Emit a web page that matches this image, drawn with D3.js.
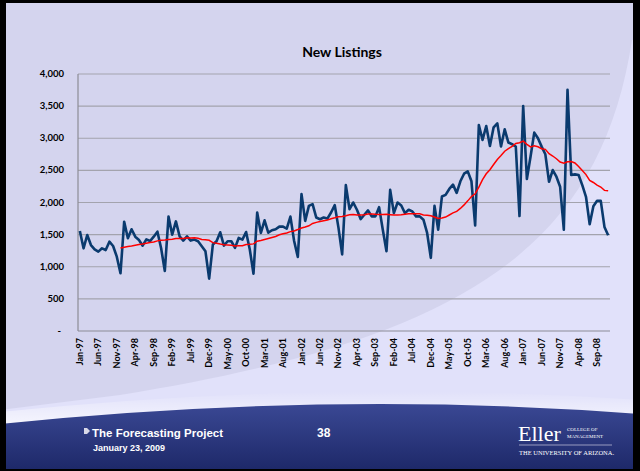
<!DOCTYPE html>
<html>
<head>
<meta charset="utf-8">
<script src="https://cdn.jsdelivr.net/npm/d3@7"></script>
<style>
  html, body { margin: 0; padding: 0; background: #000; }
  svg { display: block; }
</style>
</head>
<body>
<div id="chart"></div>
<script>
// monthly new listings, Jan-97 .. Dec-08
var listings1997 = [1556, 1287, 1494, 1338, 1271, 1235, 1287, 1260, 1390, 1323, 1157, 898];
var listings1998 = [1701, 1443, 1583, 1468, 1416, 1328, 1427, 1400, 1468, 1546, 1287, 934];
var listings1999 = [1780, 1500, 1706, 1474, 1407, 1474, 1407, 1423, 1397, 1320, 1240, 814];
var listings2000 = [1345, 1397, 1536, 1330, 1397, 1397, 1294, 1448, 1423, 1541, 1268, 892];
var listings2001 = [1845, 1526, 1722, 1531, 1568, 1583, 1625, 1625, 1594, 1781, 1401, 1151];
var listings2002 = [2130, 1714, 1948, 1974, 1766, 1740, 1766, 1750, 1844, 1958, 1609, 1193];
var listings2003 = [2271, 1896, 2000, 1887, 1742, 1809, 1876, 1784, 1784, 1928, 1577, 1242];
var listings2004 = [2196, 1835, 2000, 1954, 1835, 1887, 1861, 1784, 1784, 1732, 1526, 1139];
var listings2005 = [1948, 1577, 2093, 2119, 2211, 2278, 2150, 2330, 2448, 2485, 2330, 1644];
var listings2006 = [3206, 2974, 3191, 2881, 3170, 3232, 2871, 3139, 2933, 2907, 2871, 1789];
var listings2007 = [3500, 2366, 2716, 3088, 3000, 2870, 2750, 2323, 2505, 2401, 2245, 1578];
var listings2008 = [3755, 2427, 2438, 2427, 2271, 2089, 1661, 1943, 2026, 2026, 1620, 1490];

var tickLabels = ["Jan-97", "Jun-97", "Nov-97", "Apr-98", "Sep-98", "Feb-99", "Jul-99", "Dec-99",
  "May-00", "Oct-00", "Mar-01", "Aug-01", "Jan-02", "Jun-02", "Nov-02", "Apr-03", "Sep-03",
  "Feb-04", "Jul-04", "Dec-04", "May-05", "Oct-05", "Mar-06", "Aug-06", "Jan-07", "Jun-07",
  "Nov-07", "Apr-08", "Sep-08"];
var tickStep = 5;
var yTicks = [0, 500, 1000, 1500, 2000, 2500, 3000, 3500, 4000];
var maPeriod = 12; // moving average trendline

var values = [].concat(listings1997, listings1998, listings1999, listings2000, listings2001,
  listings2002, listings2003, listings2004, listings2005, listings2006, listings2007, listings2008);

var W = 640, H = 471;
var svg = d3.select("#chart").append("svg").attr("width", W).attr("height", H);
var defs = svg.append("defs");

var fg = defs.append("linearGradient").attr("id", "foot").attr("x1", 0).attr("y1", 0).attr("x2", 0).attr("y2", 1);
fg.append("stop").attr("offset", "0%").attr("stop-color", "#3a4894");
fg.append("stop").attr("offset", "100%").attr("stop-color", "#1d2868");

var gl = defs.append("linearGradient").attr("id", "glow").attr("x1", 0).attr("y1", 0).attr("x2", 0).attr("y2", 1);
gl.append("stop").attr("offset", "0%").attr("stop-color", "#ffffff").attr("stop-opacity", 0);
gl.append("stop").attr("offset", "100%").attr("stop-color", "#ffffff").attr("stop-opacity", 0.8);

// slide background
svg.append("rect").attr("x", 0).attr("y", 0).attr("width", W).attr("height", H).attr("fill", "#d4d4ee");
svg.append("path")
  .attr("d", "M632,40 C600,250 460,340 120,395 L0,410 L0,471 L640,471 L640,40 Z")
  .attr("fill", "#e1e1fa");
svg.append("path")
  .attr("d", "M0,412 Q330,378 640,400 L640,420 L0,430 Z")
  .attr("fill", "url(#glow)");
svg.append("path")
  .attr("d", "M0,424 Q330,390 640,414 L640,471 L0,471 Z")
  .attr("fill", "url(#foot)");

// frame
svg.append("rect").attr("x", 0).attr("y", 0).attr("width", 6).attr("height", H).attr("fill", "#000");
svg.append("rect").attr("x", 0).attr("y", 0).attr("width", W).attr("height", 3).attr("fill", "#000");
svg.append("rect").attr("x", 633).attr("y", 0).attr("width", 7).attr("height", H).attr("fill", "#000");
svg.append("rect").attr("x", 0).attr("y", 469).attr("width", W).attr("height", 2).attr("fill", "#000");

// chart
var x = d3.scaleBand().domain(d3.range(values.length)).range([78, 610]);
var y = d3.scaleLinear().domain([0, 4000]).range([331, 74]);
var cx = function(i) { return x(i) + x.bandwidth() / 2; };

svg.append("text")
  .attr("x", 342).attr("y", 57)
  .attr("text-anchor", "middle")
  .style("font-family", "Lato, 'Open Sans', sans-serif")
  .style("font-weight", "bold").style("font-size", "14px")
  .text("New Listings");

svg.append("g").selectAll("line").data(yTicks.slice(1)).enter().append("line")
  .attr("x1", 78).attr("x2", 610)
  .attr("y1", function(d) { return y(d); }).attr("y2", function(d) { return y(d); })
  .attr("stroke", "#a3a3ad").attr("stroke-width", 1.2);

svg.append("line").attr("x1", 78).attr("x2", 78).attr("y1", y(4000)).attr("y2", y(0))
  .attr("stroke", "#8c8c96").attr("stroke-width", 1.2);
svg.append("line").attr("x1", 78).attr("x2", 610).attr("y1", y(0)).attr("y2", y(0))
  .attr("stroke", "#8c8c96").attr("stroke-width", 1.2);

var fmt = d3.format(",");
svg.append("g").selectAll("text").data(yTicks).enter().append("text")
  .attr("x", function(d) { return d === 0 ? 61 : 64; })
  .attr("y", function(d) { return y(d) + 3; })
  .attr("text-anchor", "end")
  .style("font-family", "Lato, 'Open Sans', sans-serif")
  .style("font-weight", "bold").style("font-size", "9.5px")
  .text(function(d) { return d === 0 ? "-" : fmt(d); });

svg.append("g").selectAll("text").data(tickLabels).enter().append("text")
  .attr("transform", function(d, k) {
    return "translate(" + (cx(k * tickStep) + 3) + ",338) rotate(-90)";
  })
  .attr("text-anchor", "end")
  .style("font-family", "Lato, 'Open Sans', sans-serif")
  .style("font-weight", "bold").style("font-size", "9px")
  .text(function(d) { return d; });

var line = d3.line().x(function(d) { return cx(d[0]); }).y(function(d) { return y(d[1]); });

svg.append("path")
  .datum(values.map(function(v, i) { return [i, v]; }))
  .attr("d", line)
  .attr("fill", "none").attr("stroke", "#0a3a6e").attr("stroke-width", 2.6)
  .attr("stroke-linejoin", "round");

var ma = [];
for (var i = maPeriod - 1; i < values.length; i++) {
  ma.push([i, d3.mean(values.slice(i - maPeriod + 1, i + 1))]);
}
svg.append("path")
  .datum(ma)
  .attr("d", line)
  .attr("fill", "none").attr("stroke", "#ff0000").attr("stroke-width", 1.5);

// footer
var ft = svg.append("g").attr("fill", "#fff")
  .style("font-family", "'Liberation Sans', Arial, sans-serif").style("font-weight", "bold");
ft.append("path").attr("d", "M84,428 L87,428 L90,431 L87,434 L84,434 Z").attr("fill", "#d8d8e8");
ft.append("text").attr("x", 92).attr("y", 437).style("font-size", "11.5px").text("The Forecasting Project");
ft.append("text").attr("x", 93).attr("y", 451).style("font-size", "9px").text("January 23, 2009");
ft.append("text").attr("x", 317).attr("y", 437).style("font-size", "12px").text("38");

var logo = svg.append("g").attr("fill", "#fff").style("font-family", "'Liberation Serif', 'DejaVu Serif', serif");
logo.append("text").attr("x", 518).attr("y", 441).style("font-size", "22px").text("Eller");
logo.append("text").attr("x", 567).attr("y", 431).style("font-size", "5px").text("COLLEGE OF");
logo.append("text").attr("x", 567).attr("y", 438).style("font-size", "5px").text("MANAGEMENT");
logo.append("line").attr("x1", 519).attr("x2", 612).attr("y1", 445).attr("y2", 445)
  .attr("stroke", "#c8c8e0").attr("stroke-width", 0.7);
logo.append("text").attr("x", 519).attr("y", 455).style("font-size", "6.5px").text("THE UNIVERSITY OF ARIZONA.");
</script>
</body>
</html>
